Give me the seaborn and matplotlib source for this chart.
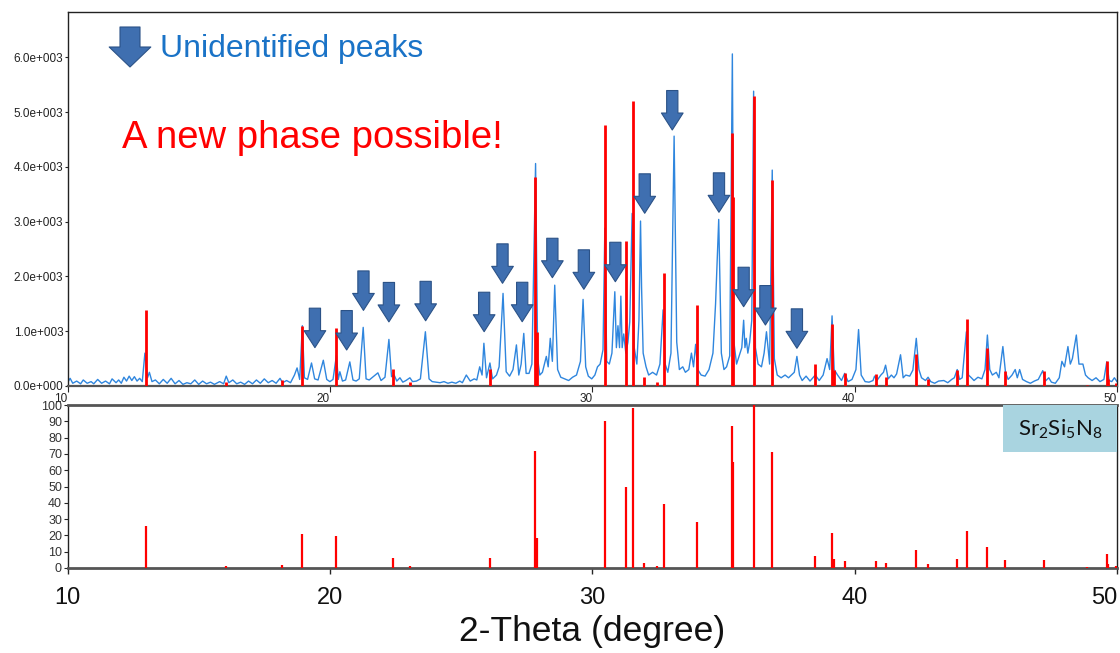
import matplotlib
matplotlib.use("Agg")
import matplotlib.pyplot as plt
from matplotlib.patches import Rectangle
import seaborn as sns
import pandas as pd

# ---------------- data ----------------
# measured XRD profile (2-theta, counts), read from the picture
profile_2theta = [
    10.0, 10.1, 10.2, 10.35, 10.5, 10.6, 10.75, 10.9, 11.0, 11.15, 11.3, 11.45, 11.6, 11.7, 11.85, 11.95,
    12.05, 12.15, 12.25, 12.35, 12.45, 12.55, 12.65, 12.75, 12.85, 12.95, 13.05, 13.12, 13.22, 13.35, 13.5,
    13.65, 13.8, 13.95, 14.1, 14.25, 14.4, 14.55, 14.7, 14.85, 15.0, 15.15, 15.3, 15.45, 15.6, 15.8, 15.95,
    16.05, 16.15, 16.3, 16.45, 16.6, 16.75, 16.9, 17.05, 17.2, 17.35, 17.5, 17.65, 17.8, 17.95, 18.1, 18.2,
    18.35, 18.5, 18.65, 18.75, 18.85, 18.95, 19.03, 19.15, 19.3, 19.42, 19.55, 19.75, 19.88, 20.0, 20.12,
    20.25, 20.32, 20.38, 20.48, 20.6, 20.76, 20.88, 21.0, 21.12, 21.27, 21.38, 21.5, 21.65, 21.83, 21.95,
    22.1, 22.25, 22.35, 22.45, 22.55, 22.67, 22.78, 22.9, 23.05, 23.15, 23.3, 23.45, 23.64, 23.78, 23.9,
    24.05, 24.2, 24.35, 24.5, 24.65, 24.8, 24.95, 25.05, 25.2, 25.35, 25.5, 25.6, 25.71, 25.8, 25.87, 25.97,
    26.1, 26.2, 26.35, 26.45, 26.6, 26.72, 26.85, 26.98, 27.11, 27.2, 27.29, 27.39, 27.48, 27.59, 27.7,
    27.84, 27.92, 28.0, 28.1, 28.25, 28.32, 28.4, 28.48, 28.57, 28.68, 28.8, 28.95, 29.1, 29.25, 29.4,
    29.55, 29.65, 29.75, 29.85, 29.98, 30.1, 30.2, 30.3, 30.41, 30.48, 30.55, 30.65, 30.75, 30.86, 30.92,
    30.98, 31.04, 31.09, 31.14, 31.2, 31.28, 31.36, 31.43, 31.52, 31.6, 31.7, 31.78, 31.84, 31.88, 31.94,
    32.05, 32.15, 32.3, 32.45, 32.58, 32.7, 32.78, 32.88, 33.0, 33.12, 33.22, 33.32, 33.45, 33.55, 33.68,
    33.78, 33.86, 33.94, 34.02, 34.15, 34.3, 34.45, 34.6, 34.7, 34.82, 34.92, 35.02, 35.12, 35.24, 35.3,
    35.34, 35.4, 35.5, 35.6, 35.7, 35.77, 35.82, 35.87, 35.93, 36.0, 36.08, 36.15, 36.22, 36.32, 36.45,
    36.55, 36.64, 36.7, 36.76, 36.86, 36.94, 37.05, 37.2, 37.35, 37.48, 37.59, 37.7, 37.8, 37.9, 38.0,
    38.15, 38.3, 38.5, 38.65, 38.8, 38.95, 39.05, 39.14, 39.22, 39.35, 39.5, 39.62, 39.75, 39.9, 40.05,
    40.15, 40.25, 40.4, 40.55, 40.7, 40.76, 40.85, 41.0, 41.1, 41.18, 41.28, 41.4, 41.5, 41.6, 41.75,
    41.85, 41.95, 42.1, 42.22, 42.35, 42.45, 42.55, 42.7, 42.8, 42.9, 43.05, 43.2, 43.4, 43.55, 43.7,
    43.8, 43.91, 44.0, 44.1, 44.26, 44.34, 44.45, 44.55, 44.7, 44.85, 44.97, 45.06, 45.15, 45.25, 45.4,
    45.5, 45.65, 45.75, 45.85, 46.0, 46.12, 46.2, 46.29, 46.4, 46.55, 46.7, 46.85, 47.0, 47.17, 47.27,
    47.4, 47.5, 47.65, 47.8, 47.9, 48.0, 48.13, 48.22, 48.3, 48.45, 48.55, 48.7, 48.8, 48.9, 49.05,
    49.2, 49.35, 49.5, 49.61, 49.7, 49.8, 49.9, 50.0,
]
profile_counts = [
    60, 140, 50, 90, 40, 110, 50, 80, 40, 120, 50, 90, 40, 130, 60, 110,
    50, 160, 90, 180, 100, 170, 90, 140, 80, 600, 150, 250, 80, 110, 40,
    120, 50, 140, 40, 100, 30, 60, 40, 110, 30, 90, 40, 70, 30, 80, 40,
    180, 60, 110, 40, 70, 30, 90, 40, 110, 50, 130, 60, 100, 50, 140, 60,
    100, 60, 200, 330, 120, 1100, 150, 120, 420, 130, 110, 470, 120, 80, 120,
    560, 120, 260, 90, 110, 440, 110, 90, 130, 1070, 130, 110, 170, 240, 100,
    160, 850, 170, 200, 90, 150, 70, 100, 150, 80, 90, 130, 990, 130, 80,
    70, 60, 80, 50, 70, 50, 90, 60, 200, 90, 130, 110, 350, 200, 780, 150,
    420, 130, 200, 350, 1690, 260, 180, 300, 750, 200, 400, 960, 230, 230, 400,
    4060, 500, 200, 250, 540, 350, 870, 450, 1840, 300, 160, 130, 100, 160, 200,
    450, 1580, 350, 180, 130, 200, 350, 400, 660, 2880, 450, 400, 600, 1720, 700,
    1100, 700, 1640, 700, 950, 600, 800, 1170, 3150, 700, 400, 1200, 3010, 1800, 600,
    350, 200, 250, 200, 400, 1390, 400, 250, 600, 4560, 800, 300, 350, 250, 300,
    600, 350, 760, 300, 200, 180, 300, 600, 1500, 3040, 600, 300, 350, 550, 3760,
    6060, 800, 400, 550, 700, 1200, 700, 870, 600, 800, 1200, 5380, 700, 400, 350,
    600, 990, 700, 400, 3940, 500, 200, 150, 200, 150, 200, 250, 540, 200, 100,
    180, 90, 200, 100, 200, 500, 300, 1280, 300, 200, 100, 230, 80, 120, 300,
    1030, 200, 80, 70, 100, 180, 100, 200, 250, 380, 130, 200, 150, 220, 570,
    150, 200, 180, 290, 870, 300, 150, 100, 160, 80, 50, 90, 100, 60, 120,
    150, 300, 120, 150, 990, 200, 150, 100, 160, 130, 300, 930, 300, 200, 250,
    150, 720, 250, 120, 200, 300, 150, 300, 120, 80, 50, 90, 120, 280, 90,
    150, 70, 50, 150, 450, 350, 720, 400, 500, 930, 400, 400, 200, 150, 100,
    150, 80, 120, 440, 100, 80, 150, 80,
]

# reference pattern Sr2Si5N8 (2-theta, relative intensity)
ref_2theta = [13.0, 16.04, 18.16, 18.95, 20.25, 22.39, 23.05, 26.12, 27.82, 27.88, 30.49, 31.27, 31.54,
              31.99, 32.47, 32.74, 34.0, 35.34, 35.37, 36.15, 36.86, 38.5, 39.15, 39.2, 39.62, 40.8,
              41.19, 42.34, 42.8, 43.92, 44.28, 45.05, 45.75, 47.2, 48.86, 49.6, 49.67, 49.95]
ref_intensity = [26, 1.5, 2, 20.7, 19.8, 6, 1.5, 6, 72, 18.5, 90, 50, 98,
                 3, 1.5, 39, 28, 87, 65, 100, 71, 7.5, 21.5, 5.5, 4.5, 4,
                 3, 11, 2.5, 5.5, 23, 13, 5, 5, 0.5, 8.6, 2.5, 1]
ref_scale_counts = 53  # counts per 1 % of relative intensity in the upper panel

# unidentified peaks marked with arrows (2-theta, counts at arrow tip)
arrow_2theta = [19.43, 20.64, 21.28, 22.25, 23.65, 25.88, 26.58, 27.33, 28.48, 29.68, 30.88,
                32.0, 33.05, 34.83, 35.77, 36.6, 37.8]
arrow_tip_counts = [700, 657, 1380, 1170, 1190, 991, 1874, 1173, 1976, 1765, 1903,
                    3152, 4672, 3170, 1447, 1113, 688]
arrow_len_counts = 720

top_yticks = [0, 1000, 2000, 3000, 4000, 5000, 6000]
top_ytick_labels = ["0.0e+000", "1.0e+003", "2.0e+003", "3.0e+003", "4.0e+003", "5.0e+003", "6.0e+003"]
xticks = [10, 20, 30, 40, 50]
bottom_yticks = [0, 10, 20, 30, 40, 50, 60, 70, 80, 90, 100]

# ---------------- style ----------------
sns.set_style("white")
plt.rcParams["font.family"] = ["Liberation Sans", "DejaVu Sans"]
plt.rcParams["mathtext.fontset"] = "custom"
plt.rcParams["mathtext.rm"] = "Lato"
plt.rcParams["mathtext.it"] = "Lato"

W, H = 1120, 653
fig = plt.figure(figsize=(W / 100, H / 100), dpi=100)
ax1 = fig.add_axes([67.5 / W, 1 - 386 / H, 1049.5 / W, 374 / H])
ax2 = fig.add_axes([67.5 / W, 1 - 568 / H, 1049.5 / W, 163 / H])

blue = "#2f86de"
red = "#ff0000"

prof = pd.DataFrame({"two_theta": profile_2theta, "counts": profile_counts})
sns.lineplot(data=prof, x="two_theta", y="counts", ax=ax1, color=blue, lw=1.0,
             estimator=None, sort=False)
ref = pd.DataFrame({"two_theta": ref_2theta, "I": ref_intensity})
ax1.vlines(ref["two_theta"], 0, ref["I"] * ref_scale_counts, color=red, lw=2.0, zorder=3)
ax2.vlines(ref["two_theta"], 0, ref["I"], color=red, lw=1.6, zorder=3)

# arrows for unidentified peaks
for x, tip in zip(arrow_2theta, arrow_tip_counts):
    ax1.annotate("", xy=(x, tip), xytext=(x, tip + arrow_len_counts),
                 arrowprops=dict(arrowstyle="simple,head_length=1.22,head_width=1.56,tail_width=0.81",
                                 mutation_scale=10, fc="#3f6fb0", ec="#2b5287", lw=0.8,
                                 shrinkA=0, shrinkB=0), zorder=5)

# top axes formatting
ax1.set_xlim(10, 50)
ax1.set_ylim(0, 6825)
ax1.set_yticks(top_yticks)
ax1.set_yticklabels(top_ytick_labels, fontsize=8.5, color="#222222")
ax1.set_xticks(xticks)
ax1.set_xticklabels([str(v) for v in xticks], fontsize=8.5, color="#222222", ha="right")
ax1.tick_params(axis="y", direction="out", length=2, width=0.8, pad=1, left=True)
ax1.tick_params(axis="x", direction="out", length=4, width=0.8, pad=1, bottom=True)
ax1.set_xlabel("")
ax1.set_ylabel("")
for s in ["left", "top", "right"]:
    ax1.spines[s].set_color("#222222")
    ax1.spines[s].set_linewidth(1.0)
ax1.spines["bottom"].set_color("#555555")
ax1.spines["bottom"].set_linewidth(1.6)

# bottom axes formatting
ax2.set_xlim(10, 50)
ax2.set_ylim(0, 100)
ax2.set_yticks(bottom_yticks)
ax2.set_yticklabels([str(v) for v in bottom_yticks], fontsize=9, color="#333333")
ax2.set_xticks(xticks)
ax2.set_xticklabels([str(v) for v in xticks], fontsize=17, color="#111111")
ax2.get_xticklabels()[-1].set_horizontalalignment("right")
ax2.tick_params(axis="y", direction="out", length=3, width=0.8, pad=1, left=True)
ax2.tick_params(axis="x", direction="out", length=4, width=1.0, pad=10, bottom=True)
ax2.set_xlabel("2-Theta (degree)", fontsize=25.5, color="#111111", labelpad=4)
for s in ["left", "right"]:
    ax2.spines[s].set_color("#222222")
    ax2.spines[s].set_linewidth(1.0)
for s in ["top", "bottom"]:
    ax2.spines[s].set_color("#555555")
    ax2.spines[s].set_linewidth(2.0)

# phase label box
ax2.add_patch(Rectangle((0.891, 0.712), 0.109, 0.288, transform=ax2.transAxes,
                        facecolor="#a9d4e0", edgecolor="none", zorder=4))
ax2.text(0.9455, 0.85, r"Sr$_2$Si$_5$N$_8$", transform=ax2.transAxes, ha="center",
         va="center", fontsize=16, color="#111111", family="Lato", zorder=5)

# annotations
fig.text(160 / W, 1 - 57 / H, "Unidentified peaks", fontsize=23, color="#1a73c7",
         ha="left", va="baseline")
fig.text(122 / W, 1 - 148 / H, "A new phase possible!", fontsize=27.5, color="#ff0000",
         ha="left", va="baseline")
ax1.annotate("", xy=(130, H - 67), xycoords="figure pixels",
             xytext=(130, H - 27), textcoords="figure pixels",
             arrowprops=dict(arrowstyle="simple,head_length=1.44,head_width=3.0,tail_width=1.44",
                             mutation_scale=10, fc="#3f6fb0", ec="#2b5287", lw=0.8,
                             shrinkA=0, shrinkB=0))

fig.savefig("out.png", dpi=100)
